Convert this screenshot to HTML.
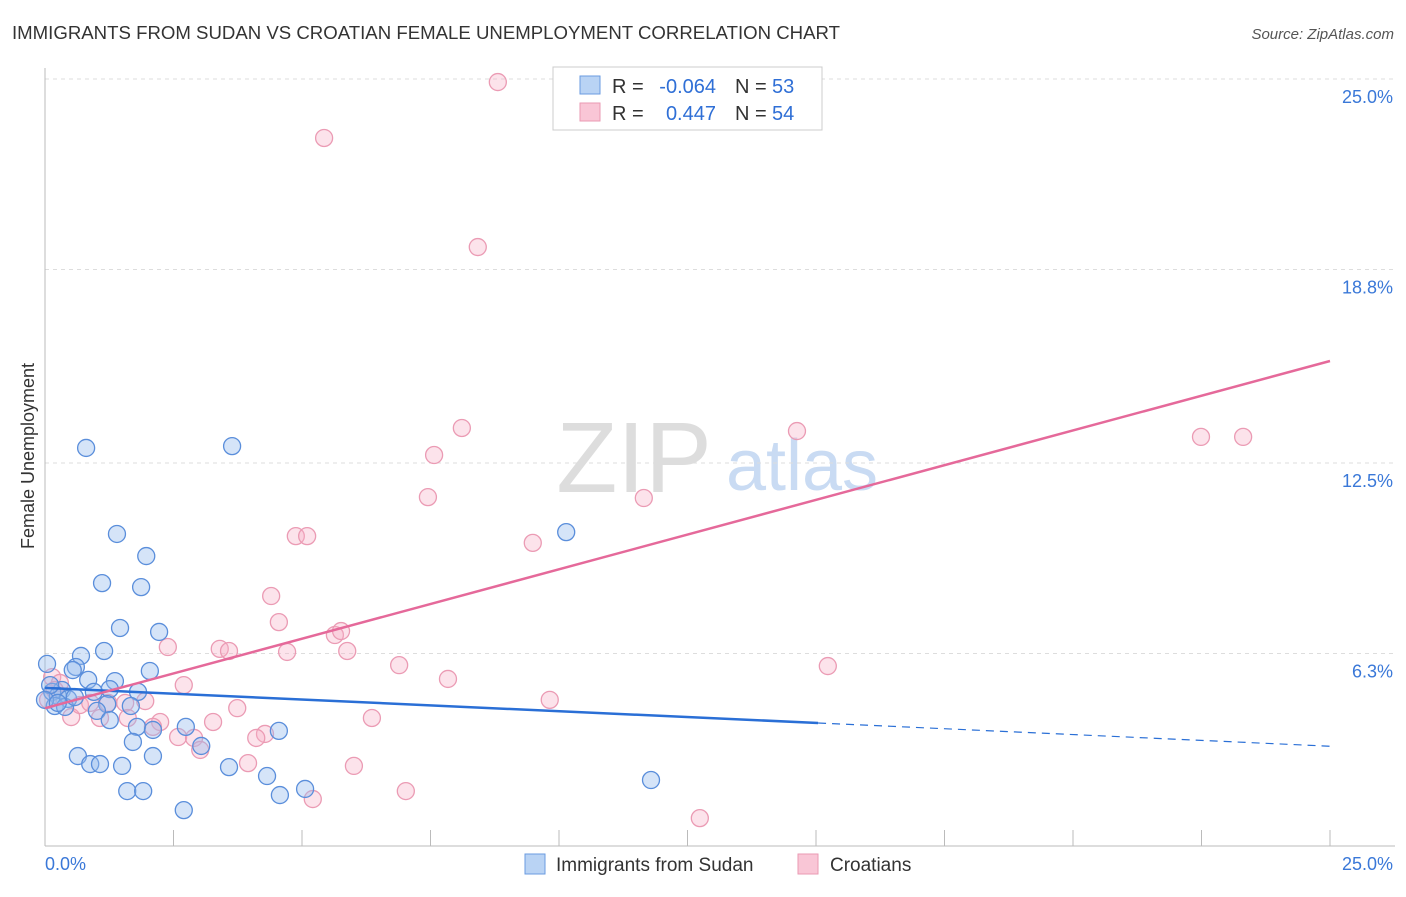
<!DOCTYPE html>
<html><head><meta charset="utf-8"><style>
body{margin:0;background:#fff;font-family:"Liberation Sans",sans-serif}
svg text{font-family:"Liberation Sans",sans-serif}
</style></head><body>
<svg id="c" width="1406" height="892" xmlns="http://www.w3.org/2000/svg">
<text x="12" y="39" font-size="18" fill="#333" textLength="828" lengthAdjust="spacingAndGlyphs">IMMIGRANTS FROM SUDAN VS CROATIAN FEMALE UNEMPLOYMENT CORRELATION CHART</text>
<text x="1394" y="39" font-size="15" fill="#555" font-style="italic" text-anchor="end">Source: ZipAtlas.com</text>
<text x="634" y="492" font-size="100" fill="#ddd" font-family="Liberation Serif" text-anchor="middle">ZIP</text>
<text x="802" y="490" font-size="72" fill="#c9dbf3" text-anchor="middle">atlas</text>
<text transform="translate(34,456) rotate(-90)" font-size="18" fill="#333" text-anchor="middle">Female Unemployment</text>
<g id="grid"></g><g id="marks"></g>
<g>
<rect x="553" y="67" width="269" height="63" fill="#fff" stroke="#ccc"/>
<rect x="580" y="76" width="20" height="18" fill="#b9d3f4" stroke="#6a9be0"/>
<rect x="580" y="103" width="20" height="18" fill="#f9c6d6" stroke="#ea9ab3"/>
<text x="612" y="93" font-size="20" fill="#333">R =</text>
<text x="716" y="93" font-size="20" fill="#2f6fd6" text-anchor="end">-0.064</text>
<text x="735" y="93" font-size="20" fill="#333">N =</text>
<text x="772" y="93" font-size="20" fill="#2f6fd6">53</text>
<text x="612" y="120" font-size="20" fill="#333">R =</text>
<text x="716" y="120" font-size="20" fill="#2f6fd6" text-anchor="end">0.447</text>
<text x="735" y="120" font-size="20" fill="#333">N =</text>
<text x="772" y="120" font-size="20" fill="#2f6fd6">54</text>
</g>
<g>
<rect x="525" y="854" width="20" height="20" fill="#b9d3f4" stroke="#6a9be0"/>
<text x="556" y="871" font-size="19" fill="#333">Immigrants from Sudan</text>
<rect x="798" y="854" width="20" height="20" fill="#f9c6d6" stroke="#ea9ab3"/>
<text x="830" y="871" font-size="19" fill="#333">Croatians</text>
</g>
</svg>
<script>
const yTicks=[25,18.8,12.5,6.3];
const yTickLabels=["25.0%","18.8%","12.5%","6.3%"];
const xTicks=[0,2.5,5,7.5,10,12.5,15,17.5,20,22.5,25];
const sudanX=[0.80,3.64,1.40,1.97,1.11,1.87,10.14,1.46,2.22,1.15,0.70,0.60,0.54,0.04,2.04,1.36,0.84,1.81,1.26,0.33,0.14,0.25,0.45,0.95,1.21,1.67,0.19,0.39,1.01,1.26,1.79,2.10,2.74,4.55,1.71,3.04,0.64,2.10,0.88,1.07,1.50,3.58,4.32,11.79,1.60,1.91,5.06,4.57,2.70,0.10,0.00,0.25,0.58];
const sudanY=[12.99,13.05,10.19,9.47,8.59,8.46,10.25,7.13,7.00,6.38,6.22,5.86,5.76,5.96,5.73,5.40,5.44,5.05,5.14,5.11,5.05,4.92,4.82,5.05,4.65,4.59,4.59,4.56,4.43,4.13,3.91,3.81,3.91,3.78,3.42,3.29,2.96,2.96,2.70,2.70,2.64,2.60,2.31,2.18,1.82,1.82,1.89,1.69,1.20,5.27,4.79,4.69,4.88];
const croX=[8.81,5.43,8.42,8.11,14.63,22.49,23.31,7.57,7.45,11.65,4.88,5.10,9.49,4.40,4.55,5.64,5.76,2.39,3.40,3.58,4.71,5.88,6.89,15.23,2.70,7.84,9.82,3.74,1.95,1.56,1.23,0.51,1.07,0.14,0.29,0.68,0.06,1.61,3.27,2.24,2.10,6.36,2.59,2.90,4.28,4.11,3.02,3.95,6.01,7.02,5.21,12.74,0.19,0.88];
const croY=[24.90,23.08,19.53,13.64,13.54,13.35,13.35,12.76,11.39,11.36,10.12,10.12,9.90,8.17,7.32,6.90,7.03,6.51,6.45,6.38,6.35,6.38,5.92,5.89,5.27,5.47,4.79,4.52,4.75,4.69,4.69,4.23,4.20,5.53,5.34,4.62,4.79,4.20,4.07,4.07,3.91,4.20,3.58,3.55,3.68,3.55,3.16,2.73,2.64,1.82,1.56,0.94,5.11,4.69];
const sudanTrend=[5.18,3.28]; const sudanSolidEnd=15.04;
const croTrend=[4.52,15.82];
const X=v=>45+v*51.4, Y=v=>847-v*30.72;
const NS="http://www.w3.org/2000/svg";
function mk(t,a,p){const e=document.createElementNS(NS,t);for(const k in a)e.setAttribute(k,a[k]);p.appendChild(e);return e;}
const g=document.getElementById('grid'), m=document.getElementById('marks');
yTicks.forEach((v,i)=>{
 const l=mk('line',{x1:45,x2:1395,y1:Y(v),y2:Y(v),stroke:'#ddd','stroke-dasharray':'4,4'},g);
 
 
 const t=mk('text',{x:1393,y:Y(v)+24,'font-size':18,fill:'#3a78d8','text-anchor':'end'},g);
 t.textContent=yTickLabels[i];
 
 
});
const ax=mk('line',{x1:45,x2:45,y1:68,y2:846,stroke:'#bbb'},g);


const bx=mk('line',{x1:45,x2:1395,y1:846,y2:846,stroke:'#bbb'},g);


xTicks.forEach(v=>{const t=mk('line',{x1:X(v),x2:X(v),y1:830,y2:846,stroke:'#bbb'},g);
 
 });
[[0,'start',45],[25,'end',1393]].forEach(([v,a,x])=>{const t=mk('text',{x:x,y:870,'font-size':18,fill:'#3a78d8','text-anchor':a},g);t.textContent=v.toFixed(1)+'%';
 
 });
function pts(xs,ys,fill,stroke,name){xs.forEach((x,i)=>{const c=mk('circle',{cx:X(x),cy:Y(ys[i]),r:8.5,fill:fill,stroke:stroke,'stroke-width':1.3},m);
 
 });}
pts(croX,croY,'rgba(246,175,198,0.35)','#eb9bb4','croatian-point');
pts(sudanX,sudanY,'rgba(150,188,238,0.4)','#5a8edb','sudan-point');
const slope=(sudanTrend[1]-sudanTrend[0])/25, ys=sudanTrend[0]+slope*sudanSolidEnd;
const b1=mk('line',{x1:X(0),y1:Y(sudanTrend[0]),x2:X(sudanSolidEnd),y2:Y(ys),stroke:'#2a6fd6','stroke-width':2.5},m);


const b2=mk('line',{x1:X(sudanSolidEnd),y1:Y(ys),x2:X(25),y2:Y(sudanTrend[1]),stroke:'#2a6fd6','stroke-width':1.2,'stroke-dasharray':'8,6'},m);


const p1=mk('line',{x1:X(0),y1:Y(croTrend[0]),x2:X(25),y2:Y(croTrend[1]),stroke:'#e5699a','stroke-width':2.5},m);


</script>
</body></html>
